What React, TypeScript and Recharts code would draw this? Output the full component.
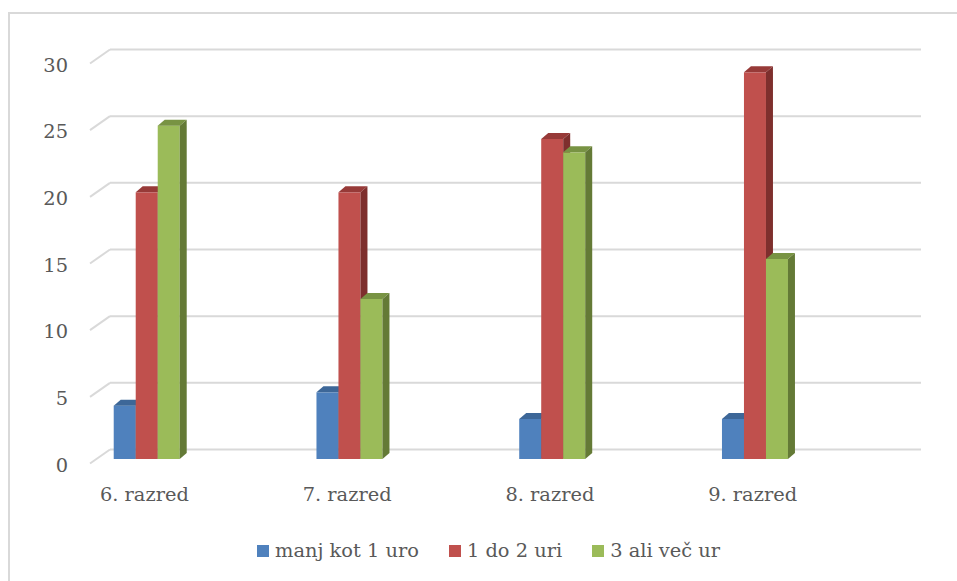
import { BarChart, Bar, XAxis, YAxis, CartesianGrid } from 'recharts';

const categories = ['6. razred', '7. razred', '8. razred', '9. razred'];
const lessThanOneHour = [4, 5, 3, 3];
const oneToTwoHours = [20, 20, 24, 29];
const threeOrMoreHours = [25, 12, 23, 15];
const yTicks = [0, 5, 10, 15, 20, 25, 30];

const series = [
  { key: 'a', name: 'manj kot 1 uro', values: lessThanOneHour, front: '#4f81bd', top: '#3d6798', side: '#2f5380' },
  { key: 'b', name: '1 do 2 uri', values: oneToTwoHours, front: '#c0504d', top: '#973a38', side: '#7e2f2d' },
  { key: 'c', name: '3 ali več ur', values: threeOrMoreHours, front: '#9bbb59', top: '#789343', side: '#647a36' },
];

const data = categories.map((name, i) => {
  const row: Record<string, string | number> = { name };
  series.forEach((s) => {
    row[s.key] = s.values[i];
  });
  return row;
});

const FONT = '"DejaVu Serif", serif';
const FONT_SIZE = 19.4;
const TEXT = '#595959';
const GRID = '#d9d9d9';
const DX = 7;
const DY = -6;

// front face plus darker top and right side to fake the 3D column look
function Column3D(props: any) {
  const { x, y, width, height, front, top, side } = props;
  if (height == null || width == null) return null;
  return (
    <g>
      <rect x={x} y={y} width={width} height={height} fill={front} />
      <polygon
        points={`${x},${y} ${x + width},${y} ${x + width + DX},${y + DY} ${x + DX},${y + DY}`}
        fill={top}
      />
      <polygon
        points={`${x + width},${y} ${x + width + DX},${y + DY} ${x + width + DX},${y + height + DY} ${x + width},${y + height}`}
        fill={side}
      />
    </g>
  );
}

// gridlines sit on the back wall, with a short slanted piece on the side wall
function BackWallLine(props: any) {
  const { y1 } = props;
  const back = y1 - 9.5;
  return (
    <g key={props.key}>
      <line x1={90} y1={y1 + 4.5} x2={110} y2={back} stroke={GRID} strokeWidth={2} />
      <line x1={110} y1={back} x2={921} y2={back} stroke={GRID} strokeWidth={2} />
    </g>
  );
}

function YTick(props: any) {
  const { y, payload } = props;
  return (
    <text x={68} y={y + 6} textAnchor="end" dominantBaseline="central" fill={TEXT} fontSize={FONT_SIZE} fontFamily={FONT}>
      {payload.value}
    </text>
  );
}

function XTick(props: any) {
  const { x, payload } = props;
  return (
    <text x={x - 3} y={494} textAnchor="middle" dominantBaseline="central" fill={TEXT} fontSize={FONT_SIZE} fontFamily={FONT}>
      {payload.value}
    </text>
  );
}

export default function App() {
  return (
    <div style={{ position: 'absolute', left: 0, top: 0, width: 957, height: 581, background: '#fff', overflow: 'hidden' }}>
      <div
        style={{
          position: 'absolute',
          left: 8,
          top: 12,
          width: 960,
          height: 600,
          borderLeft: `2px solid ${GRID}`,
          borderTop: `2px solid ${GRID}`,
        }}
      />
      <div style={{ position: 'absolute', left: 0, top: 0 }}>
        <BarChart
          width={957}
          height={581}
          data={data}
          margin={{ top: 59, right: 100, bottom: 92, left: 0 }}
          barCategoryGap="33.4%"
          barGap={0}
        >
          <CartesianGrid vertical={false} horizontal={BackWallLine} />
          <XAxis dataKey="name" axisLine={false} tickLine={false} height={30} tick={XTick} />
          <YAxis
            domain={[0, 30]}
            ticks={yTicks}
            width={46}
            axisLine={false}
            tickLine={false}
            tick={YTick}
          />
          {series.map((s) => (
            <Bar
              key={s.key}
              dataKey={s.key}
              name={s.name}
              isAnimationActive={false}
              shape={(p: any) => <Column3D {...p} front={s.front} top={s.top} side={s.side} />}
            />
          ))}
        </BarChart>
      </div>
      <div
        style={{
          position: 'absolute',
          left: 257,
          top: 539,
          display: 'flex',
          alignItems: 'center',
          fontFamily: FONT,
          fontSize: FONT_SIZE,
          color: TEXT,
        }}
      >
        {series.map((s, i) => (
          <div key={s.key} style={{ display: 'flex', alignItems: 'center', marginRight: i < series.length - 1 ? 30 : 0 }}>
            <span style={{ display: 'inline-block', width: 12, height: 12, background: s.front, marginRight: 6 }} />
            <span>{s.name}</span>
          </div>
        ))}
      </div>
    </div>
  );
}
